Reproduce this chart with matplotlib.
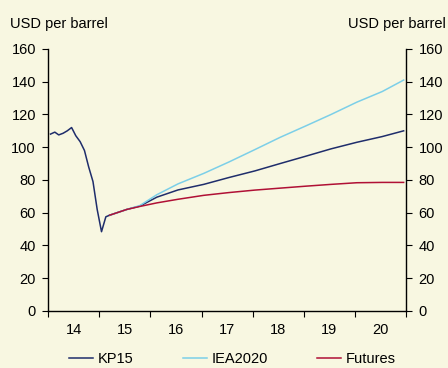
import matplotlib
matplotlib.use('Agg')
import matplotlib.pyplot as plt
import pandas as pd

# historical oil price (monthly, USD per barrel)
hist_months = ['2014-01', '2014-02', '2014-03', '2014-04', '2014-05', '2014-06',
               '2014-07', '2014-08', '2014-09', '2014-10', '2014-11', '2014-12',
               '2015-01', '2015-02', '2015-03']
hist_price = [108, 109.2, 107.5, 108.5, 110, 112, 107, 103.4, 98, 88, 79, 62, 48.4, 57.5, 58.5]

# forecast paths
fc_months = ['2015-03', '2015-07', '2015-10', '2016-02', '2016-07', '2017-01', '2017-07',
             '2018-01', '2018-07', '2019-01', '2019-07', '2020-01', '2020-07', '2020-12']
kp15 = [58.5, 62, 64, 69.5, 73.9, 77.3, 81.5, 85.5, 90, 94.5, 99, 103, 106.5, 110]
iea2020 = [58.5, 62, 64.3, 71, 77.6, 84, 91, 98.5, 106, 113, 120, 127.5, 134, 141]
futures = [58.5, 62, 63.8, 66, 68.2, 70.6, 72.3, 73.8, 75, 76.2, 77.3, 78.3, 78.5, 78.5]

year_labels = ['14', '15', '16', '17', '18', '19', '20']

bg = '#f8f7e1'
navy = '#1f2d6b'
cyan = '#7ccfe8'
red = '#b01035'

plt.rcParams['font.family'] = ['Liberation Sans', 'DejaVu Sans']
plt.rcParams['font.size'] = 10.5

fig = plt.figure(figsize=(4.48, 3.68), dpi=100, facecolor=bg)
ax = fig.add_axes([0.108, 0.155, 0.798, 0.712], facecolor=bg)

hx = pd.to_datetime(hist_months) + pd.Timedelta(days=15)
fx = pd.to_datetime(fc_months) + pd.Timedelta(days=15)

ax.plot(hx, hist_price, color=navy, lw=1.1)
ax.plot(fx, kp15, color=navy, lw=1.1, label='KP15')
ax.plot(fx, iea2020, color=cyan, lw=1.1, label='IEA2020')
ax.plot(fx, futures, color=red, lw=1.1, label='Futures')

# x axis: year boundaries as ticks, labels centred in each year
ax.set_xlim(pd.Timestamp('2014-01-01'), pd.Timestamp('2021-01-01'))
ax.set_xticks(pd.date_range('2014-01-01', '2021-01-01', freq='YS'))
ax.set_xticklabels([])
mid = [pd.Timestamp('20%s-07-02' % y) for y in year_labels]
ax.set_xticks(mid, minor=True)
ax.set_xticklabels(year_labels, minor=True)
ax.tick_params(axis='x', which='minor', length=0, pad=9)
ax.tick_params(axis='x', which='major', length=4, direction='out', color='black')

ax.set_ylim(0, 160)
ax.set_yticks(range(0, 161, 20))
ax.tick_params(axis='y', length=4, direction='out', pad=5, labelright=True, right=True)

ax.spines['top'].set_visible(False)
for s in ['left', 'right', 'bottom']:
    ax.spines[s].set_linewidth(1.0)
    ax.spines[s].set_color('black')

fig.text(0.022, 0.935, 'USD per barrel', ha='left', va='center', fontsize=10.5)
fig.text(0.995, 0.935, 'USD per barrel', ha='right', va='center', fontsize=10.5)

fig.legend(loc='center', bbox_to_anchor=(0.519, 0.024), ncol=3, frameon=False,
           handlelength=1.65, handletextpad=0.3, columnspacing=3.4, fontsize=10.5,
           borderpad=0)

fig.savefig('out.png', dpi=100, facecolor=bg)
